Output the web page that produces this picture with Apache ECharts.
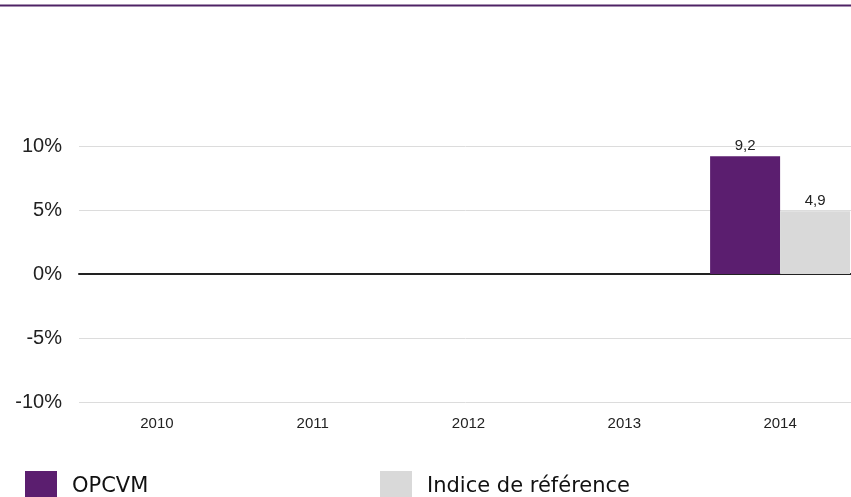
<!DOCTYPE html>
<html>
<head>
<meta charset="utf-8">
<title>OPCVM</title>
<script src="https://cdn.jsdelivr.net/npm/echarts@6/dist/echarts.min.js"></script>
<style>
html,body{margin:0;padding:0;background:#fff;}
#main{width:851px;height:497px;}
</style>
</head>
<body>
<div id="main"></div>
<script>
var years = ['2010', '2011', '2012', '2013', '2014'];
var opcvm = [null, null, null, null, 9.2];
var indice = [null, null, null, null, 4.9];
var seriesNames = ['OPCVM', 'Indice de référence'];
var colors = ['#5b1e6f', '#d9d9d9'];

var myChart = echarts.init(document.getElementById('main'));

function fmtComma(p) {
	return p.value.toFixed(1).replace('.', ',');
}

var barLabel = {
	show: true,
	position: 'top',
	distance: 3,
	color: '#222',
	fontFamily: '"Liberation Sans"',
	fontSize: 15,
	formatter: fmtComma
};

var legendText = {
	color: '#111',
	fontFamily: '"DejaVu Sans"',
	fontSize: 21,
	padding: [0, 0, 0, 10]
};

var option = {
	animation: false,
	color: colors,
	graphic: [{
		type: 'line',
		shape: {x1: 0, y1: 5.5, x2: 851, y2: 5.5},
		style: {stroke: '#4e2365', lineWidth: 2}
	}],
	legend: [{
		data: [seriesNames[0]],
		left: 25,
		top: 471,
		padding: 0,
		itemWidth: 32,
		itemHeight: 32,
		icon: 'rect',
		textStyle: legendText
	}, {
		data: [seriesNames[1]],
		left: 380,
		top: 471,
		padding: 0,
		itemWidth: 32,
		itemHeight: 32,
		icon: 'rect',
		textStyle: legendText
	}],
	// the plot runs a few pixels past the right edge in the original
	grid: {left: 79, right: -7, top: 146, bottom: 95, outerBoundsMode: 'none'},
	xAxis: [{
		type: 'category',
		data: years,
		axisLine: {show: false, onZero: false},
		axisTick: {show: false},
		axisLabel: {
			color: '#222',
			fontFamily: '"Liberation Sans"',
			fontSize: 15,
			margin: 14
		}
	}, {
		type: 'category',
		data: years,
		position: 'bottom',
		axisLine: {show: true, onZero: true, lineStyle: {color: '#222', width: 2}},
		axisTick: {show: false},
		axisLabel: {show: false}
	}],
	yAxis: {
		type: 'value',
		min: -10,
		max: 10,
		interval: 5,
		axisLine: {show: false},
		axisTick: {show: false},
		axisLabel: {
			formatter: '{value}%',
			color: '#222',
			fontFamily: '"Liberation Sans"',
			fontSize: 20,
			margin: 17
		},
		splitLine: {lineStyle: {color: '#dcdcdc', width: 1}}
	},
	series: [{
		name: seriesNames[0],
		type: 'bar',
		xAxisIndex: 0,
		data: opcvm,
		barWidth: 70,
		barGap: '0%',
		label: barLabel
	}, {
		name: seriesNames[1],
		type: 'bar',
		xAxisIndex: 0,
		data: indice,
		barWidth: 70,
		barGap: '0%',
		label: barLabel
	}]
};

myChart.setOption(option);
</script>
</body>
</html>
